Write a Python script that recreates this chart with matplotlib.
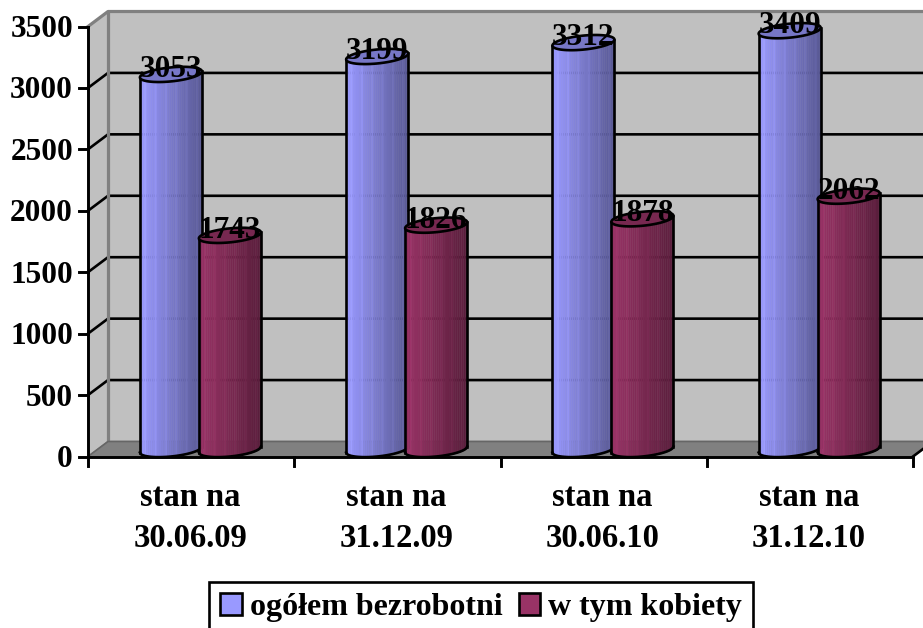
import numpy as np
import matplotlib
matplotlib.use('Agg')
import matplotlib.pyplot as plt
from matplotlib.patches import Patch
from matplotlib.colors import to_rgb

categories = ['stan na\n30.06.09', 'stan na\n31.12.09', 'stan na\n30.06.10', 'stan na\n31.12.10']
ogolem = [3053, 3199, 3312, 3409]
kobiety = [1743, 1826, 1878, 2062]
series_names = ['ogółem bezrobotni', 'w tym kobiety']
yticks = [0, 500, 1000, 1500, 2000, 2500, 3000, 3500]

plt.rcParams['font.family'] = 'Liberation Serif'
plt.rcParams['font.weight'] = 'bold'

W, H = 923, 628
fig = plt.figure(figsize=(W / 100, H / 100), dpi=100)
ax = fig.add_axes([0, 0, 1, 1])

# pixels per data unit, front corner of the plot at (88, 456.5)
sx = 206.25
sy = 430 / 3500
ax.set_xlim(-88 / sx, (W - 88) / sx)
ax.set_ylim((456.5 - H) / sy, 456.5 / sy)
ax.axis('off')

lw = 1.9
dx = 20 / sx
dy = 15 / sy
ymax = 3500
xmax = 4

# walls and floor
ax.fill([dx, xmax + dx, xmax + dx, dx], [dy, dy, ymax + dy, ymax + dy], color='#c0c0c0', zorder=1)
ax.fill([0, dx, dx, 0], [0, dy, ymax + dy, ymax], color='#c0c0c0', zorder=1)
ax.fill([0, xmax, xmax + dx, dx], [0, 0, dy, dy], color='#808080', zorder=1)

# grid lines on back and side wall
for v in yticks[1:-1]:
    ax.plot([0, dx, xmax + dx], [v, v + dy, v + dy], color='black', lw=lw, zorder=2)
ax.plot([0, dx, xmax + dx], [ymax, ymax + dy, ymax + dy], color='#808080', lw=lw + 0.4, zorder=2)
ax.plot([dx, dx], [dy, ymax + dy], color='#808080', lw=lw + 0.4, zorder=2)
ax.plot([0, dx, xmax + dx], [0, dy, dy], color='#666666', lw=1.2, zorder=2)

# axis lines and ticks
ax.plot([0, 0], [0, ymax], color='black', lw=lw + 0.2, zorder=6)
ax.plot([0, xmax], [0, 0], color='black', lw=lw + 0.2, zorder=6)
ax.plot([xmax, xmax + dx], [0, dy], color='black', lw=lw, zorder=6)
for v in yticks:
    ax.plot([-9 / sx, 0], [v, v], color='black', lw=lw + 0.2, zorder=6)
    ax.text(-15 / sx, v - 3 / sy, str(v), ha='right', va='center', fontsize=22.5, zorder=7)
for i in range(xmax + 1):
    ax.plot([i, i], [0, -9 / sy], color='black', lw=lw + 0.2, zorder=6)
for i, cat in enumerate(categories):
    ax.text(i + 0.495, -26 / sy, cat, ha='center', va='top', fontsize=23.5, linespacing=1.4, zorder=7)


def cylinder(cx, value, color, z):
    rx = 31 / sx
    ry = 7 / sy
    tilt = 3 / sy
    lift = 7 / sy
    base = np.array(to_rgb(color))
    edges = np.linspace(cx - rx, cx + rx, 31)

    def lower(x):
        c = np.clip((x - cx) / rx, -1, 1)
        return -ry * np.sqrt(1 - c ** 2) + tilt * c

    for k in range(30):
        x0, x1 = edges[k], edges[k + 1]
        shade = base * (1 - 0.42 * k / 29)
        if k % 5 == 2:
            shade = np.clip(shade * 1.06, 0, 1)
        xs = np.linspace(x0, x1, 4)
        ax.fill_between(xs, lift + lower(xs), value + lift + lower(xs),
                        color=shade, lw=0.3, zorder=z)
    xs = np.linspace(cx - rx, cx + rx, 80)
    ax.plot(xs, lift + lower(xs), color='black', lw=lw, zorder=z + 0.2)
    ax.plot([cx - rx, cx - rx], [lift - tilt, value + lift - tilt], color='black', lw=lw, zorder=z + 0.2)
    ax.plot([cx + rx, cx + rx], [lift + tilt, value + lift + tilt], color='black', lw=lw, zorder=z + 0.2)
    t = np.linspace(0, 2 * np.pi, 100)
    ex = cx + rx * np.cos(t)
    ey = value + lift + ry * np.sin(t) + tilt * np.cos(t)
    ax.fill(ex, ey, facecolor=base * 0.78, edgecolor='black', lw=lw, zorder=z + 0.3)


blue = '#9999ff'
maroon = '#993366'
label_lift = 12 / sy
for i in range(len(categories)):
    cylinder(i + 0.402, ogolem[i], blue, 3)
    cylinder(i + 0.688, kobiety[i], maroon, 4)
    ax.text(i + 0.402, ogolem[i] + label_lift, str(ogolem[i]), ha='center', va='center', fontsize=22.5, zorder=8)
    ax.text(i + 0.688, kobiety[i] + label_lift, str(kobiety[i]), ha='center', va='center', fontsize=22.5, zorder=8)

# legend box runs off the bottom edge, as in the original
handles = [Patch(facecolor=blue, edgecolor='black', lw=lw),
           Patch(facecolor=maroon, edgecolor='black', lw=lw)]
leg = fig.legend(handles, series_names, ncol=2, loc='center left', bbox_to_anchor=(209 / W, 1 - 607.5 / H),
                 fontsize=23, frameon=True, fancybox=False, edgecolor='black', framealpha=1,
                 handlelength=0.68, handleheight=0.68, handletextpad=0.25, columnspacing=0.5,
                 borderpad=0.35, borderaxespad=0)
leg.get_frame().set_linewidth(lw)

plt.savefig('out.png', dpi=100)
